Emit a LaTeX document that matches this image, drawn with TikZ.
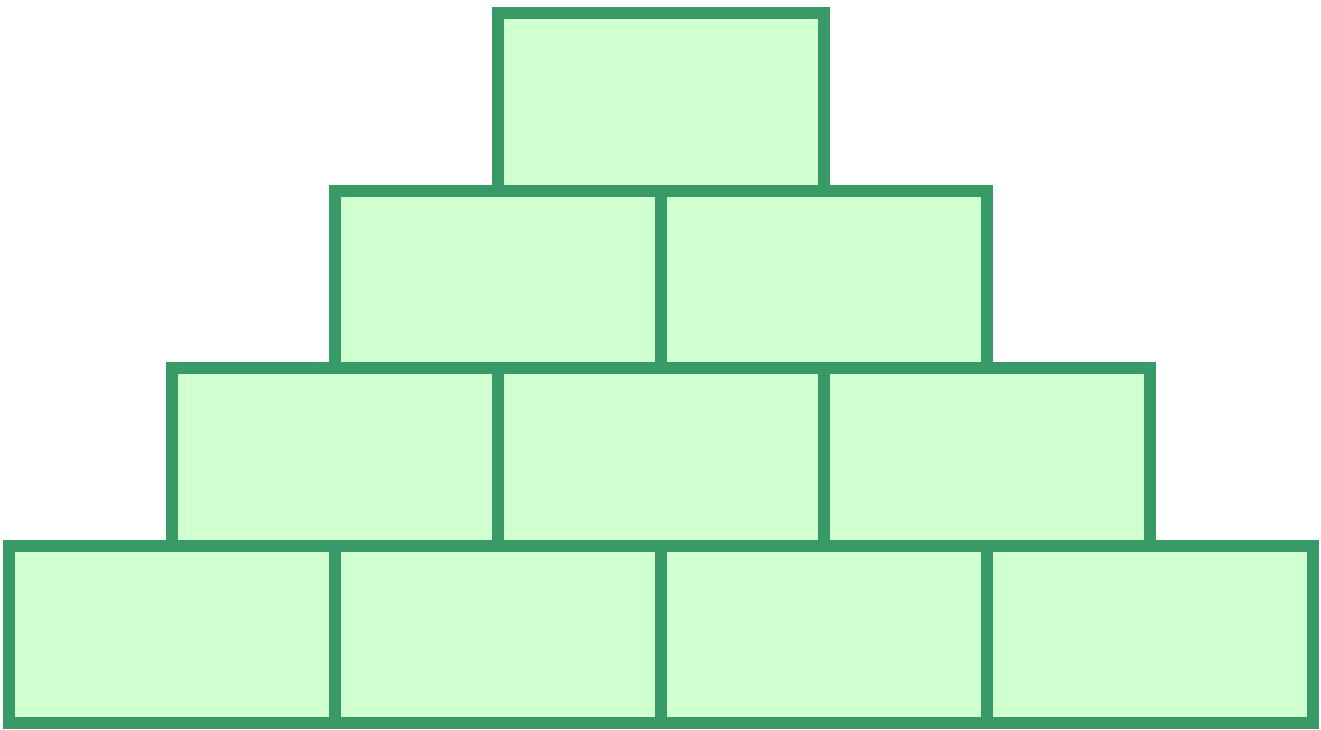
\documentclass[tikz,border=0pt]{standalone}
\usepackage{xcolor}
\definecolor{brickline}{HTML}{389A66}
\definecolor{brickfill}{HTML}{D0FFD0}

\begin{document}
\begin{tikzpicture}[
  brick/.style={draw=brickline, fill=brickfill, line width=0.12cm,
    minimum width=3.26cm, minimum height=1.775cm, inner sep=0pt}]
  \useasboundingbox (0,0) rectangle (13.21,7.29);

  % rows from the bottom up, one brick fewer each row
  \foreach \r in {0,...,3} {
    \pgfmathtruncatemacro{\last}{3-\r}
    \foreach \c in {0,...,\last} {
      \node[brick] (brick-\r-\c) at ({1.72+1.63*\r+3.26*\c},{0.9475+1.775*\r}) {};
    }
  }
\end{tikzpicture}
\end{document}
